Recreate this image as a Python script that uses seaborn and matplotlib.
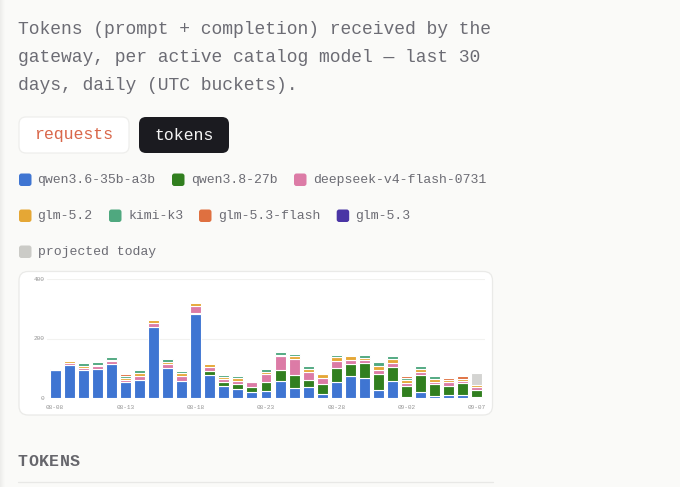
#!/usr/bin/env python

import matplotlib.pyplot as plt
import numpy as np
import pandas as pd
import seaborn as sns
from matplotlib.patches import FancyBboxPatch, Rectangle

W, H = 680, 487
BG = "#FAFAF8"
MONO = "Liberation Mono"
TEXT = "#6C6C74"

# Daily token values.
days = [
    "08-08", "08-09", "08-10", "08-11", "08-12", "08-13", "08-14", "08-15",
    "08-16", "08-17", "08-18", "08-19", "08-20", "08-21", "08-22", "08-23",
    "08-24", "08-25", "08-26", "08-27", "08-28", "08-29", "08-30", "08-31",
    "09-01", "09-02", "09-03", "09-04", "09-05", "09-06", "09-07",
]
qwen36 = [92, 112, 92, 97, 115, 53, 61, 239, 99, 58, 282, 76, 40, 29, 19, 23,
          57, 32, 37, 12, 52, 73, 67, 27, 57, 2, 20, 6, 9, 9, 2]
qwen38 = [0, 0, 0, 0, 0, 0, 0, 0, 0, 0, 3, 14, 14, 16, 16, 30,
          38, 44, 22, 35, 49, 40, 49, 52, 46, 37, 56, 39, 29, 40, 23]
deepseek = [2, 5, 8, 10, 9, 8, 12, 14, 16, 17, 24, 13, 9, 12, 17, 28,
            45, 56, 29, 21, 24, 16, 11, 13, 13, 12, 12, 9, 15, 9, 10]
glm52 = [2, 6, 6, 5, 4, 6, 11, 9, 6, 7, 10, 12, 7, 9, 4, 7,
         5, 8, 10, 12, 12, 13, 8, 14, 16, 9, 10, 8, 6, 6, 7]
kimi = [0, 2, 10, 7, 8, 8, 11, 0, 9, 8, 0, 0, 7, 7, 2, 9,
        8, 6, 10, 5, 8, 0, 9, 13, 9, 8, 8, 12, 0, 0, 0]
glm53_flash = [0, 0, 0, 0, 0, 4, 0, 0, 0, 0, 0, 0, 0, 0, 0, 0,
               0, 0, 0, 0, 0, 0, 0, 0, 0, 4, 0, 0, 7, 8, 0]
glm53 = [0] * len(days)
projected = [0] * 30 + [42]

series = [
    ("qwen3.6-35b-a3b", qwen36, "#3F75D2"),
    ("qwen3.8-27b", qwen38, "#317F1F"),
    ("deepseek-v4-flash-0731", deepseek, "#DC7BA6"),
    ("glm-5.2", glm52, "#E5A735"),
    ("kimi-k3", kimi, "#4FA87F"),
    ("glm-5.3-flash", glm53_flash, "#DF7040"),
    ("glm-5.3", glm53, "#4A35A5"),
    ("projected today", projected, "#D4D4D2"),
]

y_ticks = [0, 200, 400]

sns.set_theme(style="white")
plt.rcParams["font.family"] = [MONO, "DejaVu Sans Mono"]

fig = plt.figure(figsize=(W / 100, H / 100), dpi=100, facecolor=BG)

# Page furniture is laid out in pixels on a full-figure axes.
page = fig.add_axes([0, 0, 1, 1], zorder=0)
page.set_xlim(0, W)
page.set_ylim(H, 0)
page.axis("off")


def px(size):
    return size * 72 / 100


def round_box(ax, x0, y0, x1, y1, r, fc, ec="none", lw=1.0):
    ax.add_patch(
        FancyBboxPatch(
            (x0 + r, y0 + r), x1 - x0 - 2 * r, y1 - y0 - 2 * r,
            boxstyle=f"round,pad={r},rounding_size={r}",
            fc=fc, ec=ec, lw=lw,
        )
    )


# Shadow strip on the left edge.
for i, shade in enumerate(["#EDEDEB", "#F0F0EE", "#F3F3F1", "#F6F6F4", "#F8F8F6"]):
    page.add_patch(Rectangle((i, 0), 1, H, fc=shade, ec="none"))

# Intro text.
intro = [
    "Tokens (prompt + completion) received by the",
    "gateway, per active catalog model — last 30",
    "days, daily (UTC buckets).",
]
for line, y in zip(intro, [29, 58, 86]):
    page.text(18, y, line, color=TEXT, fontsize=px(18.05), va="center", ha="left")

# Toggle buttons.
round_box(page, 19, 117, 129, 153, 7, "white", "#EEEEEC", 0.9)
round_box(page, 139, 117, 229, 153, 7, "#1B1B20")
page.text(74, 135, "requests", color="#D9674A", fontsize=px(16.5), ha="center", va="center")
page.text(184, 135, "tokens", color="#F4F4F4", fontsize=px(16.5), ha="center", va="center")

# Legend: swatch left, label left, row centre.
legend_pos = [
    (19, 37.5, 180), (172, 191, 180), (294, 312.7, 180),
    (19, 37.5, 216), (109, 128, 216), (199, 217.7, 216), (336.7, 355.3, 216),
    (19, 37.5, 252),
]
for (name, _, color), (sx, tx, y) in zip(series, legend_pos):
    swatch = "#CBCBC7" if name == "projected today" else color
    round_box(page, sx, y - 6.5, sx + 12.5, y + 6, 2.5, swatch)
    page.text(tx, y, name, color=TEXT, fontsize=px(13.1), ha="left", va="center")

# Chart card.
round_box(page, 19, 271.5, 492.5, 415, 9, "white", "#EAEAE8", 0.9)

# Section heading, spaced out letter by letter.
for i, letter in enumerate("TOKENS"):
    page.text(18 + i * 10.4, 462, letter, color="#66666C", fontsize=px(16.5),
              fontweight="bold", ha="left", va="center")
page.plot([18, 493], [481.7, 481.7], color="#E8E8E6", lw=0.9)

# Stacked bars, drawn series by series with seaborn.
ax = fig.add_axes(
    [47 / W, 1 - 397.7 / H, (485 - 47) / W, (397.7 - 279.3) / H],
    zorder=1, facecolor="none",
)
bottom = np.zeros(len(days))
for name, values, color in series:
    values = np.array(values, dtype=float)
    keep = values > 0
    if keep.any():
        df = pd.DataFrame({"day": np.array(days)[keep], "value": values[keep]})
        sns.barplot(
            data=df, x="day", y="value", order=days, ax=ax, color=color,
            saturation=1, width=0.78, bottom=bottom[keep],
            edgecolor="white", linewidth=0.8, errorbar=None,
        )
    bottom += values

ax.set_xlim(-0.57, 30.57)
ax.set_ylim(0, 400)
ax.set_xlabel("")
ax.set_ylabel("")
ax.set_xticks(range(0, len(days), 5), days[::5])
ax.set_yticks(y_ticks, [str(v) for v in y_ticks])
ax.tick_params(axis="x", length=0, pad=5, labelsize=px(6.2), labelcolor="#949494")
ax.tick_params(axis="y", length=0, pad=2, labelsize=px(6.2), labelcolor="#949494")
ax.grid(axis="y", color="#F2F2F0", lw=0.8)
ax.set_axisbelow(True)
sns.despine(ax=ax, left=True, bottom=True)

fig.savefig("out.png", dpi=100, facecolor=BG)
